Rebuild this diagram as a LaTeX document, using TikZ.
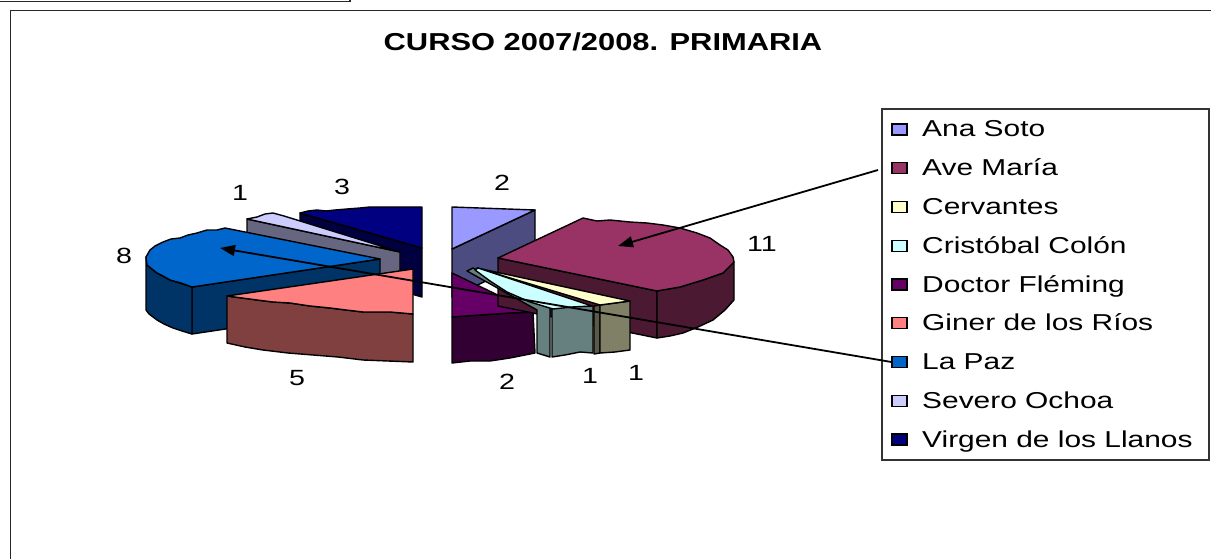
\documentclass[tikz,border=0pt]{standalone}
\usepackage{fontspec}
\setmainfont{Liberation Sans}
\newfontfamily\wideface[FakeStretch=1.3]{Liberation Sans}
\newfontfamily\titleface[FakeStretch=1.26]{Liberation Sans Bold}
\usetikzlibrary{arrows.meta}
\definecolor{navytop}{HTML}{000080}\definecolor{navyside}{HTML}{000040}
\definecolor{severotop}{HTML}{CCCCFF}\definecolor{severoside}{HTML}{666680}
\definecolor{lapaztop}{HTML}{0066CC}\definecolor{lapazside}{HTML}{003366}
\definecolor{ginertop}{HTML}{FF8080}\definecolor{ginerside}{HTML}{804040}
\definecolor{anatop}{HTML}{9999FF}\definecolor{anaside}{HTML}{4C4C80}
\definecolor{flemtop}{HTML}{660066}\definecolor{flemside}{HTML}{330033}
\definecolor{avetop}{HTML}{993366}\definecolor{aveside}{HTML}{4C1933}
\definecolor{cervtop}{HTML}{FFFFCC}\definecolor{cervside}{HTML}{808066}
\definecolor{cristop}{HTML}{CCFFFF}\definecolor{crisside}{HTML}{668080}
\begin{document}
\begin{tikzpicture}[x=1pt,y=-1pt,
  slice/.style={draw=black,line width=1.4pt,line join=round},
  lbl/.style={inner sep=0pt,font=\wideface\fontsize{22}{26}\selectfont},
  legtext/.style={anchor=base west,inner sep=0pt,font=\wideface\fontsize{23}{27}\selectfont},
  legmark/.style={draw=black,line width=1.2pt,minimum width=15pt,minimum height=11pt,inner sep=0pt},
  frameline/.style={draw=black!85,line width=1.5pt},
  pointer/.style={draw=black,line width=1.8pt,-{Triangle[length=15pt,width=11pt]}}]
\useasboundingbox (0,0) rectangle (1211,559);
% frames
\draw[frameline] (0,1.5) -- (350,1.5) -- (350,0);
\draw[frameline] (10.5,559) -- (10.5,10.5) -- (1211,10.5);
% title
\node[anchor=base,inner sep=0pt,font=\titleface\fontsize{24.5}{28}\selectfont] (title) at (603,51) {CURSO 2007/2008. PRIMARIA};
% ---- left group ----
% Virgen de los Llanos
\filldraw[slice,fill=navyside] (300,213) -- (422,248) -- (422,297) -- (300,262) -- cycle;
\filldraw[slice,fill=navytop] (300,213) -- (308,211) -- (317,210) -- (326,211) -- (335,210) -- (347,209) -- (360,208) -- (370,207) -- (395,207) -- (422,207) -- (422,248) -- cycle;
% Severo Ochoa
\filldraw[slice,fill=severoside] (247,219) -- (400,252) -- (400,300) -- (247,266) -- cycle;
\filldraw[slice,fill=severotop] (247,219) -- (257,217) -- (265,214) -- (273,213) -- (284,216) -- (400,252) -- cycle;
% La Paz
\filldraw[slice,fill=lapazside] (192,287) -- (380,259) -- (380,306) -- (192,334) -- cycle;
\filldraw[slice,fill=lapazside] (146,257) -- (147,265) -- (157,273) -- (170,280) -- (192,287) -- (192,334) -- (182,331) -- (173,328) -- (164,324) -- (157,320) -- (149,314) -- (146,310) -- cycle;
\filldraw[slice,fill=lapaztop] (380,259) -- (225,228) -- (217,230) -- (207,230) -- (197,233) -- (188,235) -- (180,238) -- (171,239) -- (163,242) -- (155,246) -- (150,250) -- (146,257) -- (147,265) -- (152,269) -- (157,273) -- (163,276) -- (170,280) -- (181,283) -- (192,287) -- cycle;
% Giner de los Rios
\filldraw[slice,fill=ginerside] (227,296) -- (242,298) -- (257,300) -- (273,302) -- (290,303) -- (310,306) -- (330,308) -- (346,310) -- (363,312) -- (390,312) -- (413,314) -- (413,362) -- (388,361) -- (363,360) -- (338,357) -- (313,355) -- (288,353) -- (263,350) -- (245,347) -- (227,343) -- cycle;
\filldraw[slice,fill=ginertop] (227,296) -- (413,269) -- (413,314) -- (390,312) -- (363,312) -- (346,310) -- (330,308) -- (310,306) -- (290,303) -- (273,302) -- (257,300) -- (242,298) -- cycle;
% ---- right group ----
% Ana Soto
\filldraw[slice,fill=anaside] (452,249) -- (535,210) -- (535,258) -- (452,297) -- cycle;
\filldraw[slice,fill=anatop] (452,207) -- (535,210) -- (452,249) -- cycle;
% Doctor Fleming
\filldraw[slice,fill=flemside] (452,317) -- (480,315) -- (510,313) -- (533,312) -- (535,353) -- (510,358) -- (490,361) -- (470,361) -- (452,363) -- cycle;
\filldraw[slice,fill=flemtop] (452,273) -- (533,312) -- (510,313) -- (480,315) -- (452,317) -- cycle;
% Ave Maria
\filldraw[slice,fill=aveside] (498,258) -- (657,291) -- (657,338) -- (498,306) -- cycle;
\filldraw[slice,fill=aveside] (657,291) -- (680,287) -- (703,280) -- (723,273) -- (734,262) -- (734,300) -- (725,310) -- (713,320) -- (698,327) -- (683,333) -- (670,336) -- (657,338) -- cycle;
\filldraw[slice,fill=avetop] (498,258) -- (583,218) -- (597,221) -- (610,220) -- (630,222) -- (647,223) -- (663,225) -- (680,228) -- (697,233) -- (710,238) -- (720,245) -- (728,250) -- (733,257) -- (734,262) -- (723,273) -- (703,280) -- (680,287) -- (657,291) -- cycle;
% Cervantes
\filldraw[slice,fill=cervside!70!black] (594,306) -- (600,305) -- (600,353) -- (594,354) -- cycle;
\filldraw[slice,fill=cervside] (600,305) -- (615,303) -- (630,301) -- (630,350) -- (615,352) -- (600,353) -- cycle;
\filldraw[slice,fill=cervtop] (477,268) -- (630,301) -- (615,303) -- (600,305) -- cycle;
% Cristobal Colon
\filldraw[slice,fill=crisside] (467,271) -- (473,268) -- (550,307) -- (550,357) -- (537,353) -- (537,310) -- cycle;
\filldraw[slice,fill=crisside] (552,308) -- (572,306) -- (593,306) -- (593,353) -- (580,352) -- (565,355) -- (552,357) -- cycle;
\filldraw[slice,fill=cristop] (475,270) -- (478,268) -- (592,306) -- (572,307) -- (553,309) -- (530,302) -- (507,292) -- (490,281) -- cycle;
% ---- value labels ----
\node[lbl] (v-severo) at (240,193) {1};
\node[lbl] (v-virgen) at (342,187) {3};
\node[lbl] (v-lapaz) at (124,256) {8};
\node[lbl] (v-giner) at (297,378) {5};
\node[lbl] (v-ana) at (502,183) {2};
\node[lbl] (v-ave) at (762,244) {11};
\node[lbl] (v-flem) at (507,382) {2};
\node[lbl] (v-cris) at (590,376) {1};
\node[lbl] (v-cerv) at (636,373) {1};
% ---- legend ----
\draw[draw=black!80,line width=1.2pt] (882,109) rectangle (1209,460);
\foreach \i/\c/\t in {0/anatop/Ana Soto,1/avetop/Ave María,2/cervtop/Cervantes,3/cristop/Cristóbal Colón,4/flemtop/Doctor Fléming,5/ginertop/Giner de los Ríos,6/lapaztop/La Paz,7/severotop/Severo Ochoa,8/navytop/Virgen de los Llanos}{
  \node[legmark,fill=\c] (lm\i) at (899.5,{137+38.75*\i-7.5}) {};
  \node[legtext] (lt\i) at (922,{137+38.75*\i}) {\t};
}
% ---- pointers ----
\coordinate (ave-start) at (878,170);
\coordinate (ave-tip) at (618,246);
\coordinate (lapaz-tip) at (220,248);
\draw[pointer] (ave-start) -- (ave-tip);
\draw[pointer] (lm6.west) -- (lapaz-tip);
\end{tikzpicture}
\end{document}
